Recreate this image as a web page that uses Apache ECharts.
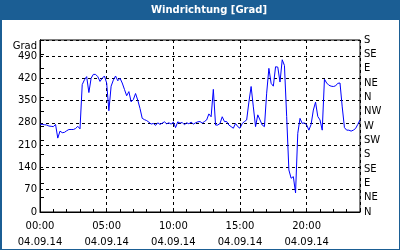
<!DOCTYPE html>
<html><head><meta charset="utf-8">
<script src="https://cdn.jsdelivr.net/npm/echarts@6/dist/echarts.min.js"></script>
<style>html,body{margin:0;padding:0;background:#fff}#c{width:400px;height:250px}</style>
</head><body><div id="c"></div><script>
const chartTitle = 'Windrichtung [Grad]';
const unitLabel = 'Grad';
const stepMinutes = 10;
const windDir = [
 276,275,274,273,270,269,268,275,232,254,
 249,250,255,259,259,259,262,269,261,400,
 415,425,375,420,432,432,425,410,420,427,
 405,318,395,414,427,412,420,405,385,365,
 378,346,353,372,351,325,294,290,287,282,
 276,278,272,280,275,279,283,277,280,276,
 282,265,283,279,281,274,280,277,282,276,
 280,283,284,279,284,289,308,299,385,273,
 273,278,299,284,284,273,268,263,278,268,
 263,278,284,289,345,394,330,268,305,289,
 273,268,373,451,404,395,456,455,408,478,
 460,300,132,106,111,60,247,294,278,280,
 273,257,275,320,345,300,289,257,417,405,
 398,395,394,396,404,405,330,265,257,257,
 254,257,262,275,289
];
const timeTicks = ['00:00','05:00','10:00','15:00','20:00'];
const dateLabel = '04.09.14';
const compass = ['N','NE','E','SE','S','SW','W','NW','N','NE','E','SE','S'];

const seriesData = windDir.map((v, i) => [i * stepMinutes / 60, v]);
const blue = '#1b5e94';
const fontFam = '"DejaVu Sans"';
const chart = echarts.init(document.getElementById('c'), null, {renderer: 'canvas'});
chart.setOption({
  animation: false,
  backgroundColor: '#fff',
  graphic: [
    {type: 'rect', shape: {x: 0, y: 0, width: 400, height: 20}, style: {fill: blue}},
    {type: 'rect', shape: {x: 0, y: 0, width: 2, height: 250}, style: {fill: blue}},
    {type: 'rect', shape: {x: 399, y: 0, width: 1, height: 250}, style: {fill: blue}},
    {type: 'rect', shape: {x: 0, y: 249, width: 400, height: 1}, style: {fill: blue}},
    {type: 'text', x: 209, y: 10, style: {text: chartTitle, fill: '#fff', font: 'bold 10px ' + fontFam, align: 'center', verticalAlign: 'middle', textAlign: 'center', textVerticalAlign: 'middle'}},
    {type: 'text', x: 37, y: 46, style: {text: unitLabel, fill: '#000', font: '10px ' + fontFam, align: 'right', verticalAlign: 'middle', textAlign: 'right', textVerticalAlign: 'middle'}}
  ],
  grid: {left: 40, right: 40, top: 40, bottom: 38, show: true, borderColor: '#000', borderWidth: 1, backgroundColor: 'transparent'},
  xAxis: [{
    type: 'value', min: 0, max: 24, interval: 5,
    axisLine: {show: true, lineStyle: {color: '#000', width: 1}},
    axisTick: {show: true, inside: true, length: 4, lineStyle: {color: '#000'}},
    axisLabel: {
      color: '#000', fontSize: 10, fontFamily: fontFam, lineHeight: 16, margin: 6,
      showMaxLabel: false,
      formatter: v => (v >= 24 ? '' : timeTicks[Math.round(v / 5)] + '\n' + dateLabel)
    },
    splitLine: {show: true, lineStyle: {color: '#000', type: [3, 3], width: 1}}
  }, {
    type: 'value', min: 0, max: 24, interval: 1, position: 'bottom',
    axisLine: {show: false},
    axisTick: {show: true, inside: true, length: 3, lineStyle: {color: '#000'}},
    axisLabel: {show: false},
    splitLine: {show: false}
  }],
  yAxis: [{
    type: 'value', min: 0, max: 540, interval: 70, position: 'left',
    axisLine: {show: true, lineStyle: {color: '#000', width: 1}},
    axisTick: {show: true, inside: true, length: 3, lineStyle: {color: '#000'}},
    axisLabel: {color: '#000', fontSize: 10, fontFamily: fontFam, margin: 3,
      formatter: v => (v >= 540 ? '' : String(v))},
    splitLine: {show: true, lineStyle: {color: '#000', type: [3, 3], width: 1}}
  }, {
    type: 'value', min: 0, max: 540, interval: 45, position: 'right',
    axisLine: {show: true, lineStyle: {color: '#000', width: 1}},
    axisTick: {show: true, inside: false, length: 4, lineStyle: {color: '#000'}},
    axisLabel: {color: '#000', fontSize: 10, fontFamily: fontFam, margin: 4,
      formatter: v => compass[Math.round(v / 45)]},
    splitLine: {show: false}
  }],
  series: [{
    type: 'line', xAxisIndex: 0, yAxisIndex: 0,
    data: seriesData, showSymbol: false, symbol: 'none',
    lineStyle: {color: '#0000ff', width: 1}
  }]
});
</script></body></html>
